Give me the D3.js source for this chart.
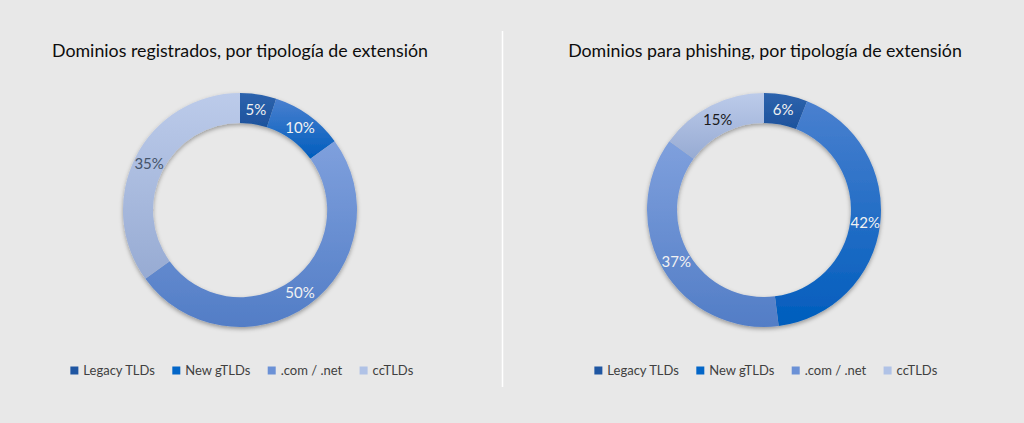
<!DOCTYPE html>
<html><head><meta charset="utf-8">
<script src="https://cdn.jsdelivr.net/npm/d3@7"></script>
<style>
html,body{margin:0;padding:0;background:#e8e8e8;}
svg{display:block;font-family:Lato,"Open Sans",sans-serif;}
</style></head>
<body>
<svg id="chart" width="1024" height="423"></svg>
<script>
const categories = ["Legacy TLDs", "New gTLDs", ".com / .net", "ccTLDs"];
const registrados = [5, 10, 50, 35];
const phishing = [6, 42, 37, 15];
const titles = ["Dominios registrados, por tipología de extensión", "Dominios para phishing, por tipología de extensión"];

const colorTop = ["#2d63ad", "#4a80cf", "#7fa0dd", "#bccbea"];
const colorBottom = ["#1d529c", "#005dbd", "#527dc6", "#97abd3"];
const legendColor = ["#1f56a2", "#0366c8", "#6b91d6", "#b0c2e6"];

const W = 1024, H = 423;
const svg = d3.select("#chart");
const defs = svg.append("defs");

const f = defs.append("filter").attr("id", "shadow").attr("x", "-20%").attr("y", "-20%").attr("width", "140%").attr("height", "140%");
f.append("feDropShadow").attr("dx", 0).attr("dy", 2).attr("stdDeviation", 2).attr("flood-color", "#000").attr("flood-opacity", 0.35);

categories.forEach((c, i) => {
  const g = defs.append("linearGradient").attr("id", "grad" + i).attr("x1", 0).attr("y1", 0).attr("x2", 0).attr("y2", 1);
  g.append("stop").attr("offset", "0%").attr("stop-color", colorTop[i]);
  g.append("stop").attr("offset", "100%").attr("stop-color", colorBottom[i]);
});

// separator
svg.append("line").attr("x1", 502.5).attr("x2", 502.5).attr("y1", 31).attr("y2", 387)
  .attr("stroke", "#ffffff").attr("stroke-width", 1.5);

const charts = [
  {values: registrados, title: titles[0], cx: 240, cy: 210, tx: 240, labelColors: ["#f2f2f2", "#f2f2f2", "#f2f2f2", "#44546a"]},
  {values: phishing, title: titles[1], cx: 764, cy: 210, tx: 765, labelColors: ["#f2f2f2", "#f2f2f2", "#f2f2f2", "#1a1a1a"]}
];

const outerR = 117, innerR = 87;
const pie = d3.pie().sort(null).value(d => d.v);
const arc = d3.arc().innerRadius(innerR).outerRadius(outerR);

charts.forEach(ch => {
  svg.append("text").attr("x", ch.tx).attr("y", 57).attr("text-anchor", "middle")
    .attr("font-size", 17.8).attr("fill", "#0d0d0d").text(ch.title);

  const g = svg.append("g").attr("transform", `translate(${ch.cx},${ch.cy})`);
  const data = pie(ch.values.map((v, i) => ({v, i})));
  const slices = g.append("g").attr("filter", "url(#shadow)");
  slices.selectAll("path").data(data).join("path")
    .attr("d", arc).attr("fill", d => `url(#grad${d.data.i})`);

  g.selectAll("text.lbl").data(data).join("text").attr("class", "lbl")
    .attr("transform", d => `translate(${arc.centroid(d)})`)
    .attr("text-anchor", "middle").attr("dy", "0.36em")
    .attr("font-size", 15).attr("fill", d => ch.labelColors[d.data.i])
    .text(d => d.data.v + "%");

  // legend
  const lg = svg.append("g");
  const items = lg.selectAll("g").data(categories).join("g");
  items.append("rect").attr("width", 8).attr("height", 8).attr("y", -8.5)
    .attr("fill", (d, i) => legendColor[i]);
  items.append("text").attr("x", 13).attr("font-size", 13).attr("fill", "#404040").text(d => d);
  let x = 0;
  items.each(function() {
    const w = this.getBBox().width;
    d3.select(this).attr("transform", `translate(${x},0)`);
    x += w + 17;
  });
  const total = x - 17;
  lg.attr("transform", `translate(${ch.cx + 2 - total / 2},375)`);
});
</script>
</body></html>
